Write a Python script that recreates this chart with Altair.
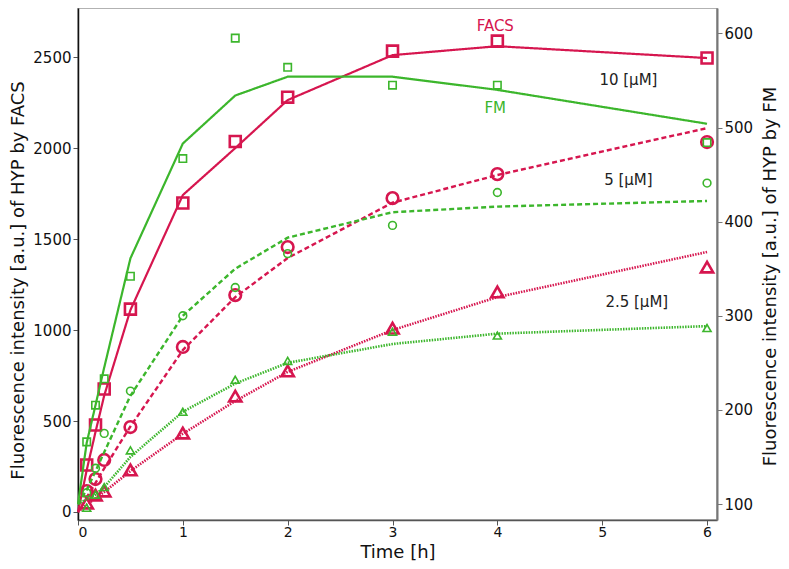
import altair as alt
import pandas as pd

# ---------------- data ----------------
times = [0.083, 0.167, 0.25, 0.5, 1, 1.5, 2, 3, 4, 6]
fit_times = [0, 0.083, 0.167, 0.25, 0.5, 1, 1.5, 2, 3, 4, 6]
concs = ["10", "5", "2.5"]

# measured points (FACS on left axis, FM on right axis)
facs_10 = [258, 478, 676, 1115, 1698, 2036, 2280, 2533, 2588, 2495]
facs_5 = [115, 181, 286, 467, 907, 1192, 1456, 1725, 1857, 2033]
facs_25 = [49, 93, 115, 231, 434, 637, 775, 1010, 1209, 1346]
fm_10 = [166, 205, 233, 342, 467, 595, 564, 545, 545, 484]
fm_5 = [112, 138, 175, 220, 300, 330, 366, 396, 431, 441]
fm_25 = [96, 110, 118, 157, 198, 232, 252, 283, 279, 287]

# fitted curves
facs_fit_10 = [0, 230, 440, 640, 1110, 1742, 2000, 2264, 2511, 2560, 2495]
facs_fit_5 = [0, 80, 160, 240, 470, 890, 1181, 1396, 1700, 1852, 2110]
facs_fit_25 = [0, 40, 75, 110, 225, 430, 610, 770, 1000, 1181, 1429]
fm_fit_10 = [100, 165, 205, 245, 361, 483, 534, 554, 554, 540, 504]
fm_fit_5 = [100, 115, 135, 155, 215, 300, 350, 383, 410, 416, 422]
fm_fit_25 = [100, 105, 110, 118, 150, 198, 228, 250, 270, 281, 289]

# annotations (time, FACS-axis value, text, colour)
ann_t = [3.98, 3.98, 5.25, 5.25, 5.33]
ann_v = [2670, 2220, 2374, 1824, 1154]
ann_text = ["FACS", "FM", "10 [µM]", "5 [µM]", "2.5 [µM]"]

RED = "#d6164f"
GREEN = "#3cb62c"
ann_col = [RED, GREEN, "#222222", "#222222", "#222222"]

left_ticks = [0, 500, 1000, 1500, 2000, 2500]
right_ticks = [100, 200, 300, 400, 500, 600]
x_ticks = [0, 1, 2, 3, 4, 5, 6]


def pts(vals_list):
    rows = []
    for c, vals in zip(concs, vals_list):
        for t, v in zip(times, vals):
            rows.append({"t": t, "v": v, "conc": c})
    return pd.DataFrame(rows)


def fits(vals_list):
    rows = []
    for c, vals in zip(concs, vals_list):
        for t, v in zip(fit_times, vals):
            rows.append({"t": t, "v": v, "conc": c})
    return pd.DataFrame(rows)


facs_pts = pts([facs_10, facs_5, facs_25])
fm_pts = pts([fm_10, fm_5, fm_25])
facs_fit = fits([facs_fit_10, facs_fit_5, facs_fit_25])
fm_fit = fits([fm_fit_10, fm_fit_5, fm_fit_25])
ann = pd.DataFrame({"t": ann_t, "v": ann_v, "text": ann_text, "c": ann_col})

FONT = "DejaVu Sans"

X = alt.X(
    "t:Q",
    scale=alt.Scale(domain=[0, 6.095], nice=False, zero=False),
    axis=alt.Axis(
        values=x_ticks, title="Time [h]", format="d", grid=False,
        domainColor="#555555", domainWidth=1.5, tickColor="#555555",
        tickSize=5, labelFontSize=14, titleFontSize=18, labelPadding=0,
        titleY=32, titleBaseline="middle",
    ),
)
YL = alt.Y(
    "v:Q",
    scale=alt.Scale(domain=[-44, 2770], nice=False, zero=False),
    axis=alt.Axis(
        orient="left", values=left_ticks, grid=False, format="d",
        title="Fluorescence intensity [a.u.] of HYP by FACS",
        titleX=-60, titleY=272, titleAngle=270, titleBaseline="middle",
        domainColor="#111111", domainWidth=1.5, tickColor="#555555",
        tickSize=5, labelFontSize=15, titleFontSize=18,
    ),
)
YR = alt.Y(
    "v:Q",
    scale=alt.Scale(domain=[83, 627], nice=False, zero=False),
    axis=alt.Axis(
        orient="right", values=right_ticks, grid=False, format="d",
        title="Fluorescence intensity [a.u.] of HYP by FM",
        titleX=53, titleY=268, titleAngle=270, titleBaseline="middle",
        domainColor="#777777", domainWidth=2, tickColor="#777777",
        tickSize=5, labelFontSize=15, titleFontSize=18,
    ),
)

dash_scale = alt.Scale(domain=concs, range=[[1, 0], [5, 3], [1.5, 1.2]])
width_scale = alt.Scale(domain=concs, range=[2.2, 2.6, 1.3])
shape_scale = alt.Scale(domain=concs, range=["square", "circle", "triangle-up"])


def line_layer(df, color, yenc):
    return alt.Chart(df).mark_line(color=color).encode(
        x=X, y=yenc,
        strokeDash=alt.StrokeDash("conc:N", scale=dash_scale, legend=None),
        strokeWidth=alt.StrokeWidth("conc:N", scale=width_scale, legend=None),
        detail="conc:N",
    )


def point_layer(df, color, yenc, sizes, sw):
    return alt.Chart(df).mark_point(color=color, filled=False, strokeWidth=sw, opacity=1).encode(
        x=X, y=yenc,
        shape=alt.Shape("conc:N", scale=shape_scale, legend=None),
        size=alt.Size("conc:N", scale=alt.Scale(domain=concs, range=sizes), legend=None),
    )


texts = alt.Chart(ann).mark_text(fontSize=15, font=FONT, align="center", baseline="middle").encode(
    x=X, y=YL, text="text:N", color=alt.Color("c:N", scale=None),
)

left = alt.layer(
    line_layer(facs_fit, RED, YL),
    point_layer(facs_pts, RED, YL, [120, 150, 75], 2.6),
    texts,
)
right = alt.layer(
    line_layer(fm_fit, GREEN, YR),
    point_layer(fm_pts, GREEN, YR, [55, 65, 38], 1.6),
)

chart = (
    alt.layer(left, right)
    .resolve_scale(y="independent", size="independent")
    .properties(
        width=639, height=512,
        autosize=alt.AutoSizeParams(type="none"),
        padding={"left": 70, "top": 0, "right": 64, "bottom": 41},
    )
    .configure_view(stroke="#999999", strokeWidth=1.5)
    .configure_axis(labelFont=FONT, titleFont=FONT, titleFontWeight="normal",
                    labelColor="#111111", titleColor="#111111")
)

chart.save("out.html", embed_options={"renderer": "svg", "actions": False})
